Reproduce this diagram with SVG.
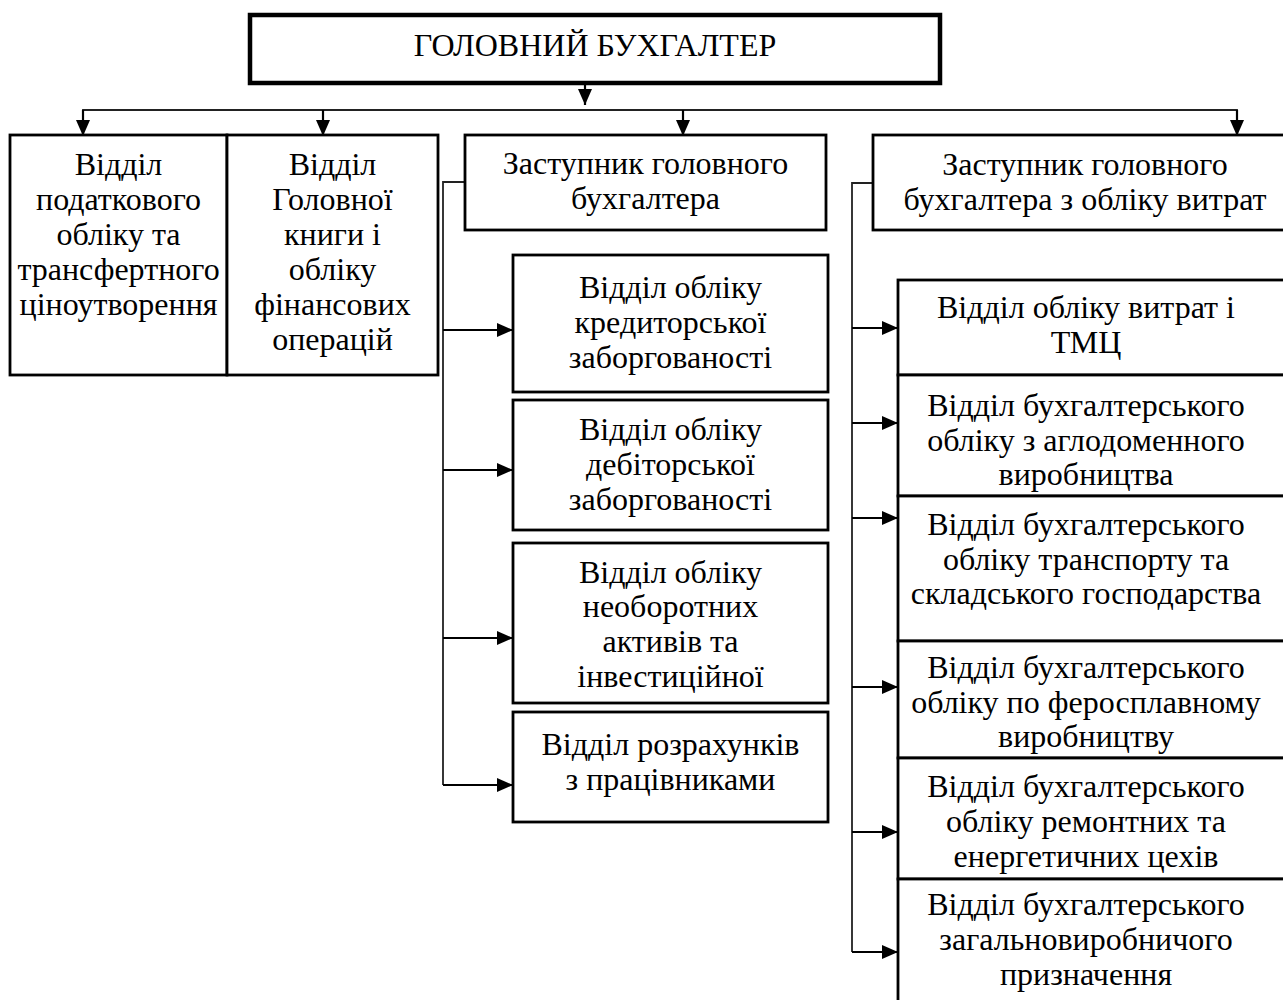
<svg xmlns="http://www.w3.org/2000/svg" width="1283" height="1000" viewBox="0 0 1283 1000">
<defs>
<marker id="ah" markerUnits="userSpaceOnUse" markerWidth="16" markerHeight="14" refX="16" refY="7" orient="auto">
<path d="M0,0 L16,7 L0,14 z" fill="#000"/>
</marker>
</defs>
<style>
.box{fill:#fff;stroke:#000;stroke-width:2.8}
.title{fill:#fff;stroke:#000;stroke-width:4.5}
text{font-family:"Liberation Serif","Times New Roman",serif;font-size:32px;fill:#000;text-anchor:middle}
.ln{fill:none;stroke:#222;stroke-width:1.8}
.ar{fill:none;stroke:#000;stroke-width:2.2;marker-end:url(#ah)}
</style>
<rect width="1283" height="1000" fill="#fff"/>
<g id="connectors">
<line class="ar" x1="585" y1="83" x2="585" y2="105"/>
<polyline class="ln" points="83,124 83,110 1237,110 1237,124"/>
<line class="ar" x1="83" y1="110" x2="83" y2="136"/>
<line class="ar" x1="323" y1="110" x2="323" y2="136"/>
<line class="ar" x1="683" y1="110" x2="683" y2="136"/>
<line class="ar" x1="1237" y1="110" x2="1237" y2="136"/>
<polyline class="ln" points="465,182 443,182 443,785"/>
<line class="ar" x1="443" y1="330" x2="513" y2="330"/>
<line class="ar" x1="443" y1="470" x2="513" y2="470"/>
<line class="ar" x1="443" y1="638" x2="513" y2="638"/>
<line class="ar" x1="443" y1="785" x2="513" y2="785"/>
<polyline class="ln" points="873,183 852,183 852,952"/>
<line class="ar" x1="852" y1="328" x2="898" y2="328"/>
<line class="ar" x1="852" y1="423" x2="898" y2="423"/>
<line class="ar" x1="852" y1="518" x2="898" y2="518"/>
<line class="ar" x1="852" y1="687" x2="898" y2="687"/>
<line class="ar" x1="852" y1="832" x2="898" y2="832"/>
<line class="ar" x1="852" y1="952" x2="898" y2="952"/>
</g>
<g id="n-head">
<rect class="title" x="250" y="15" width="690" height="68"/>
<text x="595" y="56">ГОЛОВНИЙ БУХГАЛТЕР</text>
</g>
<g id="n-tax">
<rect class="box" x="10" y="135" width="217" height="240"/>
<text x="118.5" y="175">Відділ</text>
<text x="118.5" y="210">податкового</text>
<text x="118.5" y="245">обліку та</text>
<text x="118.5" y="280">трансфертного</text>
<text x="118.5" y="315">ціноутворення</text>
</g>
<g id="n-ledger">
<rect class="box" x="227" y="135" width="211" height="240"/>
<text x="332.5" y="175">Відділ</text>
<text x="332.5" y="210">Головної</text>
<text x="332.5" y="245">книги і</text>
<text x="332.5" y="280">обліку</text>
<text x="332.5" y="315">фінансових</text>
<text x="332.5" y="350">операцій</text>
</g>
<g id="n-deputy1">
<rect class="box" x="465" y="135" width="361" height="95"/>
<text x="645.5" y="174">Заступник головного</text>
<text x="645.5" y="209">бухгалтера</text>
</g>
<g id="n-cred">
<rect class="box" x="513" y="255" width="315" height="137"/>
<text x="670.5" y="298">Відділ обліку</text>
<text x="670.5" y="333">кредиторської</text>
<text x="670.5" y="368">заборгованості</text>
</g>
<g id="n-deb">
<rect class="box" x="513" y="400" width="315" height="130"/>
<text x="670.5" y="440">Відділ обліку</text>
<text x="670.5" y="475">дебіторської</text>
<text x="670.5" y="510">заборгованості</text>
</g>
<g id="n-assets">
<rect class="box" x="513" y="543" width="315" height="160"/>
<text x="670.5" y="583">Відділ обліку</text>
<text x="670.5" y="617">необоротних</text>
<text x="670.5" y="652">активів та</text>
<text x="670.5" y="687">інвестиційної</text>
</g>
<g id="n-pay">
<rect class="box" x="513" y="712" width="315" height="110"/>
<text x="670.5" y="755">Відділ розрахунків</text>
<text x="670.5" y="790">з працівниками</text>
</g>
<g id="n-deputy2">
<rect class="box" x="873" y="135" width="425" height="95"/>
<text x="1085" y="175">Заступник головного</text>
<text x="1085" y="210">бухгалтера з обліку витрат</text>
</g>
<g id="n-costs">
<rect class="box" x="898" y="280" width="400" height="95"/>
<text x="1086" y="318">Відділ обліку витрат і</text>
<text x="1086" y="353">ТМЦ</text>
</g>
<g id="n-aglo">
<rect class="box" x="898" y="375" width="400" height="121"/>
<text x="1086" y="416">Відділ бухгалтерського</text>
<text x="1086" y="451">обліку з аглодоменного</text>
<text x="1086" y="485">виробництва</text>
</g>
<g id="n-transport">
<rect class="box" x="898" y="496" width="400" height="145"/>
<text x="1086" y="535">Відділ бухгалтерського</text>
<text x="1086" y="570">обліку транспорту та</text>
<text x="1086" y="604">складського господарства</text>
</g>
<g id="n-ferro">
<rect class="box" x="898" y="641" width="400" height="117"/>
<text x="1086" y="678">Відділ бухгалтерського</text>
<text x="1086" y="713">обліку по феросплавному</text>
<text x="1086" y="747">виробництву</text>
</g>
<g id="n-repair">
<rect class="box" x="898" y="758" width="400" height="121"/>
<text x="1086" y="797">Відділ бухгалтерського</text>
<text x="1086" y="832">обліку ремонтних та</text>
<text x="1086" y="867">енергетичних цехів</text>
</g>
<g id="n-general">
<rect class="box" x="898" y="879" width="400" height="130"/>
<text x="1086" y="915">Відділ бухгалтерського</text>
<text x="1086" y="950">загальновиробничого</text>
<text x="1086" y="985">призначення</text>
</g>
</svg>
